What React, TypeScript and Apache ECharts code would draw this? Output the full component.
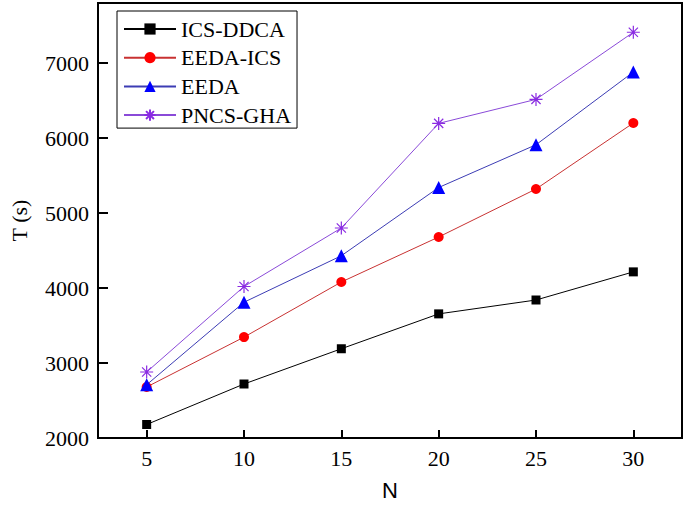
import React, { useEffect, useRef } from "react";
import * as echarts from "echarts";

const nValues = [5, 10, 15, 20, 25, 30];
const icsDdca = [2180, 2720, 3190, 3655, 3840, 4215];
const eedaIcs = [2680, 3345, 4080, 4680, 5320, 6200];
const eeda = [2710, 3810, 4430, 5340, 5910, 6880];
const pncsGha = [2880, 4020, 4800, 6195, 6515, 7410];

const seriesNames = ["ICS-DDCA", "EEDA-ICS", "EEDA", "PNCS-GHA"];
const seriesColors = ["#000000", "#ff0000", "#0000ff", "#8a2be2"];
const lineColors = ["#000000", "#c83232", "#3c3cb4", "#8a4ad8"];

const asterisk =
  "path://M0,-10L0,10M-10,0L10,0M-7.07,-7.07L7.07,7.07M-7.07,7.07L7.07,-7.07";

export default function App() {
  const ref = useRef<HTMLDivElement>(null);
  useEffect(() => {
    if (!ref.current) return;
    const chart = echarts.init(ref.current, undefined, { renderer: "svg" });
    const datasets = [icsDdca, eedaIcs, eeda, pncsGha];
    const symbols = ["rect", "circle", "triangle", asterisk];
    const sizes = [9, 10, 13, 13];
    const serif = "'Liberation Serif', 'Times New Roman', serif";
    chart.setOption({
      animation: false,
      backgroundColor: "#ffffff",
      grid: {
        left: 89,
        right: 3,
        top: 3,
        bottom: 68,
        show: true,
        borderColor: "#000",
        borderWidth: 2,
      },
      legend: {
        orient: "vertical",
        left: 117,
        top: 11,
        padding: [7, 6, 2, 6],
        itemGap: 6.7,
        itemWidth: 52,
        itemHeight: 14,
        borderColor: "#000",
        borderWidth: 1,
        backgroundColor: "#fff",
        textStyle: { fontFamily: serif, fontSize: 22, color: "#000", lineHeight: 22 },
        data: seriesNames,
      },
      xAxis: {
        type: "value",
        min: 2.5,
        max: 32.5,
        name: "N",
        nameLocation: "middle",
        nameGap: 41,
        nameTextStyle: { fontFamily: "'Liberation Sans', Arial, sans-serif", fontSize: 22, color: "#000" },
        axisLine: { show: true, lineStyle: { color: "#000", width: 2 } },
        axisTick: { show: true, inside: true, length: 8, lineStyle: { color: "#000", width: 2 } },
        axisLabel: {
          fontFamily: serif,
          fontSize: 22,
          color: "#000",
          margin: 9,
          formatter: (v: number) => (nValues.includes(v) ? String(v) : ""),
        },
        splitLine: { show: false },
      },
      yAxis: {
        type: "value",
        min: 2000,
        max: 7800,
        interval: 1000,
        name: "T (s)",
        nameLocation: "middle",
        nameGap: 68,
        nameTextStyle: { fontFamily: serif, fontSize: 22, color: "#000" },
        axisLine: { show: true, lineStyle: { color: "#000", width: 2 } },
        axisTick: { show: true, inside: true, length: 10, lineStyle: { color: "#000", width: 2 } },
        axisLabel: {
          fontFamily: serif,
          fontSize: 22,
          color: "#000",
          margin: 9,
          formatter: (v: number) => (v % 1000 === 0 ? String(v) : ""),
        },
        splitLine: { show: false },
      },
      series: seriesNames.map((name, i) => ({
        name,
        type: "line",
        data: nValues.map((n, j) => [n, datasets[i][j]]),
        symbol: symbols[i],
        symbolSize: sizes[i],
        showAllSymbol: true,
        lineStyle: { color: lineColors[i], width: 1 },
        itemStyle: {
          color: seriesColors[i],
          borderColor: seriesColors[i],
          borderWidth: i === 3 ? 1.2 : 0,
        },
      })),
    });
    return () => chart.dispose();
  }, []);
  return <div ref={ref} style={{ width: 685, height: 506, position: "absolute", left: 0, top: 0 }} />;
}
